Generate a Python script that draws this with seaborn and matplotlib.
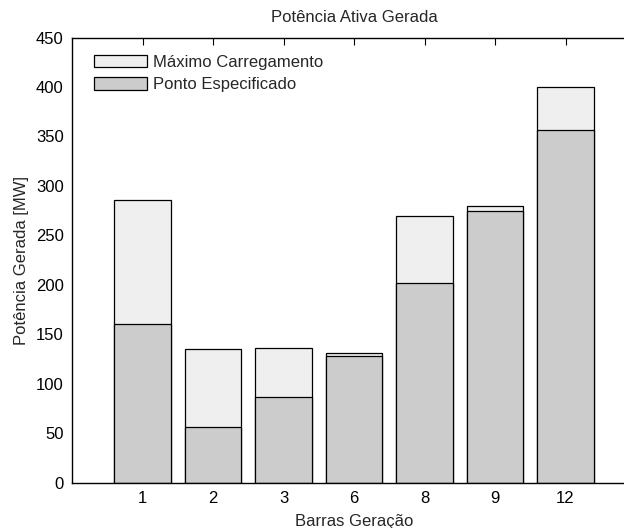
import matplotlib
matplotlib.use("Agg")
import matplotlib.pyplot as plt
import seaborn as sns
import pandas as pd

# Generation buses and generated active power (MW)
barras = ["1", "2", "3", "6", "8", "9", "12"]
maximo_carregamento = [286, 135, 136, 131, 270, 280, 400]
ponto_especificado = [160, 56, 87, 128, 202, 275, 356]
y_ticks = [0, 50, 100, 150, 200, 250, 300, 350, 400, 450]

sns.set_style("white")
plt.rcParams["font.family"] = ["Liberation Sans", "DejaVu Sans"]
plt.rcParams["font.size"] = 12

df = pd.DataFrame({
    "barra": barras,
    "maximo": maximo_carregamento,
    "ponto": ponto_especificado,
})

fig = plt.figure(figsize=(6.24, 5.28), dpi=100)
ax = fig.add_axes([72 / 624, 45.3 / 528, 564 / 624, 445.2 / 528])

sns.barplot(data=df, x="barra", y="maximo", order=barras, color="#efefef",
            saturation=1, edgecolor="black", linewidth=0.9, width=0.8,
            ax=ax, label="Máximo Carregamento")
sns.barplot(data=df, x="barra", y="ponto", order=barras, color="#cccccc",
            saturation=1, edgecolor="black", linewidth=0.9, width=0.8,
            ax=ax, label="Ponto Especificado")

ax.set_xlim(-1, len(barras))
ax.set_ylim(0, 450)
ax.set_yticks(y_ticks)
ax.set_title("Potência Ativa Gerada", fontsize=12, pad=11)
ax.set_xlabel("Barras Geração", fontsize=12, labelpad=6)
ax.set_ylabel("Potência Gerada [MW]", fontsize=12, labelpad=5)

for side in ["left", "right", "top", "bottom"]:
    ax.spines[side].set_visible(True)
    ax.spines[side].set_color("black")
    ax.spines[side].set_linewidth(1.0)
ax.tick_params(direction="in", top=True, right=True, length=5, width=0.8,
               labelsize=12, colors="black", pad=6)

ax.legend(loc="upper left", bbox_to_anchor=(0.025, 0.978), frameon=False,
          handlelength=3.2, handleheight=0.75, borderaxespad=0.0,
          borderpad=0.45, handletextpad=0.35, labelspacing=0.45, fontsize=12)

fig.savefig("out.png", dpi=100)
